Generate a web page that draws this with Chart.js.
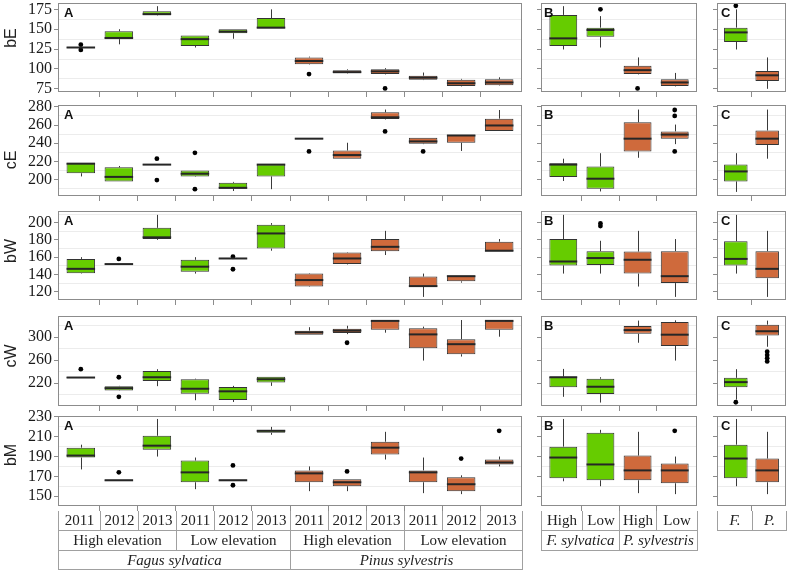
<!DOCTYPE html>
<html>
<head>
<meta charset="utf-8">
<script src="https://cdn.jsdelivr.net/npm/chart.js@4.4.1/dist/chart.umd.min.js"></script>
<style>
html, body { margin: 0; padding: 0; background: #fff; }
#fig { position: relative; width: 787px; height: 570px; overflow: hidden; }
#fig canvas { position: absolute; }
.ytitle { position: absolute; font: 16px 'Liberation Sans', Arial, sans-serif; color: #222; transform: translate(-50%, -50%) rotate(-90deg); white-space: nowrap; }
.tag { position: absolute; font: bold 13px 'Liberation Sans', Arial, sans-serif; color: #111; line-height: 13px; }
.cell { position: absolute; box-sizing: border-box; border: 1px solid #a0a0a0; border-top: none; font: 15px 'Liberation Serif', 'Times New Roman', serif; color: #222; display: flex; align-items: center; justify-content: center; white-space: nowrap; }
.cell.it { font-style: italic; }
</style>
</head>
<body>
<div id="fig"></div>
<script>
// category labels
const yearLabels = ['2011', '2012', '2013', '2011', '2012', '2013', '2011', '2012', '2013', '2011', '2012', '2013'];
const elevationLabels = ['High elevation', 'Low elevation', 'High elevation', 'Low elevation'];
const speciesLabels = ['Fagus sylvatica', 'Pinus sylvestris'];
const elevationB = ['High', 'Low', 'High', 'Low'];
const speciesB = ['F. sylvatica', 'P. sylvestris'];
const speciesC = ['F.', 'P.'];

const speciesOfA = ['F', 'F', 'F', 'F', 'F', 'F', 'P', 'P', 'P', 'P', 'P', 'P'];
const speciesOfB = ['F', 'F', 'P', 'P'];
const speciesOfC = ['F', 'P'];

// traits (rows), tick labels and y ranges
const traits = ['bE', 'cE', 'bW', 'cW', 'bM'];
const tickLabels = [[75, 100, 125, 150, 175], [200, 220, 240, 260, 280], [120, 140, 160, 180, 200], [220, 260, 300], [150, 170, 190, 210, 230]];
const yMin = [71, 182, 110.4, 180.5, 140];
const yMax = [183, 282, 213.5, 337, 231];

// box stats: [min, q1, median, q3, max]
const bE_A = [[126.5, 126.8, 127, 127.6, 128], [131, 137.5, 139, 147.5, 150], [167, 167.5, 169, 172.5, 179], [127, 129, 137.5, 142, 142], [138, 145, 147, 150, 150], [151, 151, 152, 164, 175],
  [105.5, 106, 110, 114.5, 115.5], [94, 94.5, 96, 98.5, 99.5], [93, 93.5, 97, 99.5, 101], [86, 86.5, 89, 91.5, 95.5], [78, 78.5, 82, 86.5, 87.5], [79, 79.5, 83, 87, 89.5]];
const bE_A_out = [[130.5, 124], [], [], [], [], [], [93.5], [], [75.5], [], [], []];
const bE_B = [[124.5, 129, 138.5, 168, 179], [127, 140.5, 149, 152, 166.5], [93, 93.5, 98.5, 104, 114.5], [78, 78.5, 83, 87, 95]];
const bE_B_out = [[], [175], [75.5], []];
const bE_C = [[124.5, 134, 146, 152, 175], [75, 85, 92, 97.5, 114.5]];
const bE_C_out = [[179.5], []];

const cE_A = [[203.5, 207, 217.5, 218.5, 218.5], [198, 198, 203, 213.5, 215], [216, 216, 216.5, 217, 217], [203, 203.5, 206.5, 210, 210], [187.5, 190, 191, 196.5, 197.5], [189.5, 203.5, 216.5, 217, 217],
  [244.5, 244.5, 245, 245.5, 245.5], [223, 223, 227, 232, 240.5], [266, 266.5, 268.5, 274, 277], [239, 239.5, 242, 246, 246], [231.5, 240.5, 248.5, 249, 249], [253.5, 253.5, 259.5, 267, 276.5]];
const cE_A_out = [[], [], [223, 199.5], [229.5, 189.5], [], [], [231], [], [253], [231], [], []];
const cE_B = [[198.5, 203, 216.5, 218, 223], [187, 190, 201, 214.5, 229], [224, 231, 245, 263, 277], [239, 245, 249.5, 253, 260.5]];
const cE_B_out = [[], [], [], [276.5, 270, 231]];
const cE_C = [[186.5, 198, 209, 216.5, 229], [223, 238, 245, 254, 277]];
const cE_C_out = [[], []];

const bW_A = [[141, 141.5, 146.5, 158, 160], [151.5, 151.5, 152, 152.5, 152.5], [180, 181, 183, 194, 209], [141, 143, 149, 157, 160], [158, 158, 158.5, 159, 159], [167.5, 170, 187.5, 197.5, 199.5],
  [125.5, 126, 133.5, 141, 141.5], [151.5, 152, 158.5, 165.5, 166], [162.5, 167, 172, 181, 190.5], [114, 125.5, 126.5, 137.5, 141], [130.5, 132, 138, 138.5, 138.5], [166.5, 166.5, 167.5, 178, 181]];
const bW_A_out = [[], [158], [], [], [160.5, 146], [], [], [], [], [], [], []];
const bW_B = [[141, 150.5, 155, 181, 209], [141, 151, 159, 167, 179], [126, 141, 157, 166.5, 190.5], [114, 130, 138, 167, 181]];
const bW_B_out = [[], [199, 196], [], []];
const bW_C = [[141, 150.5, 158, 178.5, 209], [114, 135.5, 146.5, 167, 190.5]];
const bW_C_out = [[], []];

const cW_A = [[229, 229, 230, 230.8, 230.8], [207, 207.5, 211.5, 215, 215.5], [215, 224, 230.5, 241.5, 244.5], [190.5, 202, 210.5, 227, 228], [187.5, 191, 206, 213.5, 215.5], [215.5, 221.5, 227, 231.5, 231.5],
  [304.5, 304.5, 308.5, 311.5, 317.5], [305.5, 307.5, 311.5, 315, 320], [308, 313, 328.5, 329.5, 329.5], [259.5, 281, 305, 315.5, 318.5], [266.5, 270.5, 288, 296.5, 330], [301, 313, 328.5, 329.5, 329.5]];
const cW_A_out = [[244.5], [230.5, 196.5], [], [], [], [], [], [290.5], [], [], [], []];
const cW_B = [[196.5, 213, 230.5, 231.5, 245], [186.5, 201.5, 214, 228, 230.5], [290.5, 306, 312.5, 319.5, 329], [259.5, 285, 304.5, 326.5, 329.5]];
const cW_B_out = [[], [], [], []];
const cW_C = [[191.5, 213, 222, 229.5, 244.5], [283.5, 303, 310.5, 322, 329]];
const cW_C_out = [[187], [275, 269, 263.5, 258]];

const bM_A = [[177, 189, 191, 199, 202], [165.5, 165.5, 166, 166.7, 166.7], [190, 197, 201, 211, 228], [157, 164, 174, 186, 189], [165.5, 165.5, 166, 166.7, 166.7], [212, 214, 216, 217, 220],
  [155, 164, 173, 176, 180], [155, 160, 164, 167, 167], [187, 192, 199, 205, 215], [153, 164, 174, 176, 189], [152, 155, 162, 169, 171], [180, 182, 184, 187, 190]];
const bM_A_out = [[], [174], [], [], [181, 161], [], [], [175], [], [], [188], [216]];
const bM_B = [[165, 168, 189, 200, 228], [160, 166, 182, 214, 217], [153, 166, 176, 191, 215], [152, 163, 176, 183, 190]];
const bM_B_out = [[], [], [], [216]];
const bM_C = [[160, 168, 188, 202, 228], [152, 164, 176, 188, 215]];
const bM_C_out = [[], []];

const statsByRow = [[bE_A, bE_B, bE_C], [cE_A, cE_B, cE_C], [bW_A, bW_B, bW_C], [cW_A, cW_B, cW_C], [bM_A, bM_B, bM_C]];
const outByRow = [[bE_A_out, bE_B_out, bE_C_out], [cE_A_out, cE_B_out, cE_C_out], [bW_A_out, bW_B_out, bW_C_out], [cW_A_out, cW_B_out, cW_C_out], [bM_A_out, bM_B_out, bM_C_out]];
const speciesByCol = [speciesOfA, speciesOfB, speciesOfC];

// layout
const GREEN = '#66cc00', ORANGE = '#cf6a3c', FRAME = '#8c8c8c';
const colLeft = [58, 541, 717], colRight = [522, 697, 786], axisW = [58, 10, 10];
const rowTop = [3, 105, 211, 316, 416], rowBottom = [92, 196, 300, 406, 506];
const titleY = [38, 160, 251, 356, 455];
const tagDx = [6, 3, 4];

const fig = document.getElementById('fig');

function addDiv(cls, text, style) {
  const d = document.createElement('div');
  d.className = cls;
  d.textContent = text;
  Object.assign(d.style, style);
  fig.appendChild(d);
  return d;
}

function makePanel(r, c) {
  const stats = statsByRow[r][c], outs = outByRow[r][c], spec = speciesByCol[c];
  const n = stats.length;
  const L = colLeft[c] - axisW[c], T = rowTop[r] - 10;
  const W = colRight[c] - colLeft[c] + axisW[c] + 10, H = rowBottom[r] - rowTop[r] + 20;
  const cv = document.createElement('canvas');
  cv.width = W; cv.height = H;
  Object.assign(cv.style, { left: L + 'px', top: T + 'px', width: W + 'px', height: H + 'px' });
  fig.appendChild(cv);

  const labels = tickLabels[r];
  const step = labels[1] - labels[0];
  const mids = [];
  labels.forEach(v => [v - step / 2, v + step / 2].forEach(m => {
    if (m > yMin[r] && m < yMax[r] && !mids.includes(m)) mids.push(m);
  }));
  const yTicks = labels.concat(mids).sort((a, b) => a - b);
  const bounds = [];
  for (let i = 1; i < n; i++) bounds.push(i + 0.5);

  const boxPlugin = {
    id: 'boxes',
    beforeDatasetsDraw(ch) {
      const g = ch.ctx, y = ch.scales.y, meta = ch.getDatasetMeta(0);
      g.save();
      g.strokeStyle = '#3a3a3a';
      g.lineWidth = 1;
      stats.forEach((s, i) => {
        const x = Math.round(meta.data[i].x) + 0.5;
        g.beginPath();
        g.moveTo(x, y.getPixelForValue(s[0]));
        g.lineTo(x, y.getPixelForValue(s[1]));
        g.moveTo(x, y.getPixelForValue(s[3]));
        g.lineTo(x, y.getPixelForValue(s[4]));
        g.stroke();
      });
      g.restore();
    },
    afterDatasetsDraw(ch) {
      const g = ch.ctx, y = ch.scales.y, meta = ch.getDatasetMeta(0);
      g.save();
      g.strokeStyle = '#262626';
      g.lineWidth = 2;
      stats.forEach((s, i) => {
        const el = meta.data[i];
        const py = y.getPixelForValue(s[2]);
        g.beginPath();
        g.moveTo(el.x - el.width / 2, py);
        g.lineTo(el.x + el.width / 2, py);
        g.stroke();
      });
      g.restore();
    },
    afterDraw(ch) {
      const a = ch.chartArea, g = ch.ctx;
      g.save();
      g.strokeStyle = FRAME;
      g.lineWidth = 1;
      g.strokeRect(a.left + 0.5, a.top + 0.5, a.right - a.left - 1, a.bottom - a.top - 1);
      g.restore();
    }
  };

  const chart = new Chart(cv, {
    type: 'bar',
    data: {
      datasets: [
        {
          type: 'bar',
          data: stats.map((s, i) => ({ x: i + 1, y: [s[1], s[3]] })),
          backgroundColor: spec.map(s => s === 'F' ? GREEN : ORANGE),
          borderColor: '#333333',
          borderWidth: 1,
          borderSkipped: false,
          categoryPercentage: 1,
          barPercentage: 0.75
        },
        {
          type: 'scatter',
          data: outs.flatMap((o, i) => o.map(v => ({ x: i + 1, y: v }))),
          pointRadius: 2.4,
          backgroundColor: '#000',
          borderWidth: 0
        }
      ]
    },
    options: {
      responsive: false,
      animation: false,
      devicePixelRatio: 1,
      events: [],
      layout: { padding: { top: 10, right: 10, bottom: 4, left: 0 } },
      plugins: { legend: { display: false }, tooltip: { enabled: false } },
      scales: {
        x: {
          type: 'linear', min: 0.4, max: n + 0.6, offset: false,
          afterBuildTicks: s => { s.ticks = bounds.map(v => ({ value: v })); },
          afterFit: s => { s.height = 6; s.paddingLeft = 0; s.paddingRight = 0; },
          border: { display: false },
          grid: { drawOnChartArea: false, offset: false, tickLength: 5, tickColor: FRAME, color: FRAME },
          ticks: { display: false }
        },
        y: {
          type: 'linear', min: yMin[r], max: yMax[r], beginAtZero: false,
          afterBuildTicks: s => { s.ticks = yTicks.map(v => ({ value: v })); },
          afterFit: s => { s.width = axisW[c]; s.paddingTop = 0; s.paddingBottom = 0; },
          border: { display: false },
          grid: {
            color: ctx => (ctx.tick && labels.includes(ctx.tick.value)) ? 'rgba(0,0,0,0)' : '#ececec',
            tickColor: ctx => (ctx.tick && labels.includes(ctx.tick.value)) ? FRAME : 'rgba(0,0,0,0)',
            tickLength: 4
          },
          ticks: {
            display: c === 0, autoSkip: false, padding: 2, color: '#1a1a1a',
            font: { family: "'Liberation Serif', 'Times New Roman', serif", size: 16 },
            callback: v => labels.includes(v) ? String(v) : ''
          }
        }
      }
    },
    plugins: [boxPlugin]
  });

  addDiv('tag', ['A', 'B', 'C'][c], { left: (colLeft[c] + tagDx[c]) + 'px', top: (rowTop[r] + 3) + 'px' });
  return { chart, L };
}

function addTable(panel, levels) {
  const ch = panel.chart, x = ch.scales.x, a = ch.chartArea;
  const n = ch.data.datasets[0].data.length;
  levels.forEach((lev, li) => {
    const top = rowBottom[4] + 5 + li * 20;
    const h = li === 2 ? 19 : 20;
    lev.labels.forEach((txt, k) => {
      const s = lev.span;
      const p0 = k === 0 ? a.left : x.getPixelForValue(k * s + 0.5);
      const p1 = (k + 1) * s >= n ? a.right : x.getPixelForValue((k + 1) * s + 0.5);
      const x0 = Math.round(panel.L + p0), x1 = Math.round(panel.L + p1);
      addDiv('cell' + (lev.italic ? ' it' : ''), txt, { left: x0 + 'px', width: (x1 - x0 + 1) + 'px', top: top + 'px', height: h + 'px' });
    });
  });
}

const panels = traits.map((t, r) => [0, 1, 2].map(c => makePanel(r, c)));

traits.forEach((t, r) => addDiv('ytitle', t, { left: '11px', top: titleY[r] + 'px' }));

addTable(panels[4][0], [
  { labels: yearLabels, span: 1 },
  { labels: elevationLabels, span: 3 },
  { labels: speciesLabels, span: 6, italic: true }
]);
addTable(panels[4][1], [
  { labels: elevationB, span: 1 },
  { labels: speciesB, span: 2, italic: true }
]);
addTable(panels[4][2], [
  { labels: speciesC, span: 1, italic: true }
]);
</script>
</body>
</html>
